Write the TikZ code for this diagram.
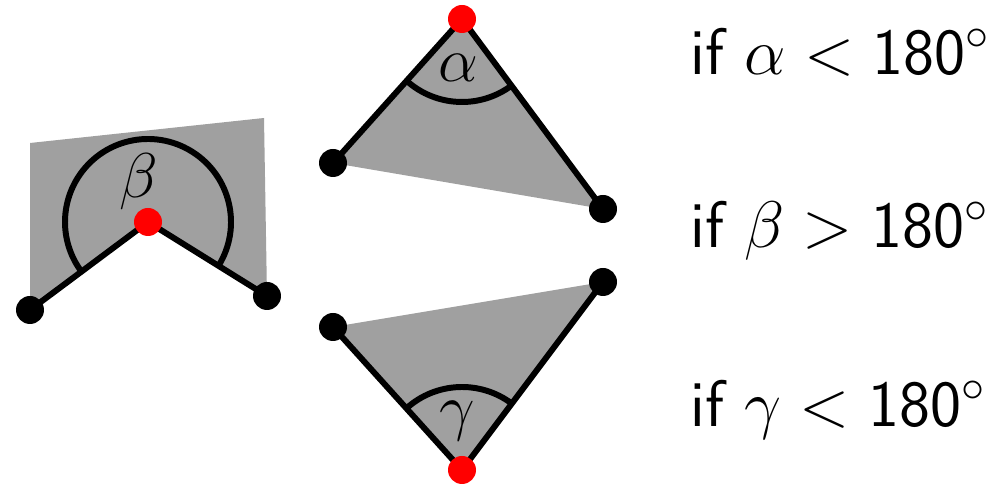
\RequirePackage{fix-cm}
\documentclass[tikz,border=0pt]{standalone}
\definecolor{fillgray}{RGB}{160,160,160}
\definecolor{vertred}{RGB}{255,0,0}
\tikzset{
  edge/.style={line width=3.4pt, black},
  anglearc/.style={line width=3.4pt, black},
  dotblack/.style={circle, fill=black, inner sep=0pt, minimum size=0.56cm},
  dotred/.style={circle, fill=vertred, inner sep=0pt, minimum size=0.56cm},
  anglelabel/.style={anchor=base, inner sep=0pt, font=\fontsize{36}{42}\selectfont},
  condtext/.style={anchor=base west, inner sep=0pt, font=\fontsize{37.5}{44}\selectfont\sffamily},
}
\begin{document}
\begin{tikzpicture}[x=0.02cm, y=0.02cm]
\useasboundingbox (0,0) rectangle (1005,486);
% coordinates
\coordinate (L1) at (30,176);
\coordinate (Rb) at (148,264);
\coordinate (L2) at (267,190);
\coordinate (TL) at (30,343);
\coordinate (TR) at (264,368);
\coordinate (Ra) at (462,467);
\coordinate (A1) at (333,323);
\coordinate (A2) at (603,277);
\coordinate (Rc) at (462,16);
\coordinate (C1) at (333,159);
\coordinate (C2) at (603,204);
% gray fills
\fill[fillgray] (TL) -- (TR) -- (L2) -- (Rb) -- (L1) -- cycle;
\fill[fillgray] (Ra) -- (A1) -- (A2) -- cycle;
\fill[fillgray] (Rc) -- (C1) -- (C2) -- cycle;
% arcs
\draw[anglearc] ([shift=(-31.9:83)]Rb) arc[start angle=-31.9, end angle=216.7, radius=83];
\draw[anglearc] ([shift=(228.1:83)]Ra) arc[start angle=228.1, end angle=306.6, radius=83];
\draw[anglearc] ([shift=(53.1:83)]Rc) arc[start angle=53.1, end angle=132.1, radius=83];
% edges
\draw[edge] (L1) -- (Rb) -- (L2);
\draw[edge] (A1) -- (Ra) -- (A2);
\draw[edge] (C1) -- (Rc) -- (C2);
% vertices
\node[dotblack] (nL1) at (L1) {};
\node[dotred] (nRb) at (Rb) {};
\node[dotblack] (nL2) at (L2) {};
\node[dotred] (nRa) at (Ra) {};
\node[dotblack] (nA1) at (A1) {};
\node[dotblack] (nA2) at (A2) {};
\node[dotred] (nRc) at (Rc) {};
\node[dotblack] (nC1) at (C1) {};
\node[dotblack] (nC2) at (C2) {};
% angle labels
\node[anglelabel] (lb) at (139,288) {$\beta$};
\node[anglelabel] (la) at (458,404) {$\alpha$};
\node[anglelabel] (lg) at (457,57) {$\gamma$};
% conditions
\node[condtext] (t1) at (690,411) {if $\alpha < \mathsf{180}^\circ$};
\node[condtext] (t2) at (690,238) {if $\beta > \mathsf{180}^\circ$};
\node[condtext] (t3) at (690,59) {if $\gamma < \mathsf{180}^\circ$};
\end{tikzpicture}
\end{document}
